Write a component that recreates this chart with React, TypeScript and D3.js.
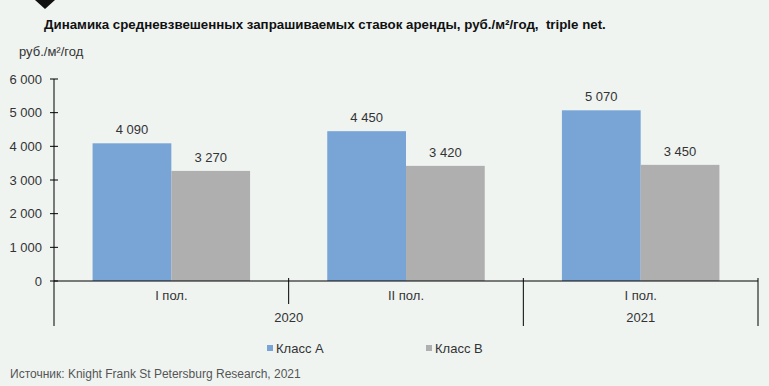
import { useRef, useEffect } from "react";
import * as d3 from "d3";

const periods = ["I пол.", "II пол.", "I пол."];
const years = ["2020", "2020", "2021"];
const classA = [4090, 4450, 5070];
const classB = [3270, 3420, 3450];
const seriesNames = ["Класс А", "Класс В"];
const yTicks = [0, 1000, 2000, 3000, 4000, 5000, 6000];

const W = 769;
const H = 386;

const App = () => {
  const svgRef = useRef(null);

  useEffect(() => {
    if (!svgRef.current) return;
    const svg = d3.select(svgRef.current);
    svg.selectAll("*").remove();

    const fmt = d3.formatLocale({
      decimal: ",",
      thousands: "\u00a0",
      grouping: [3],
      currency: ["", ""],
    }).format(",d");

    const left = 54;
    const right = 758;
    const y0 = 281;
    const yTop = 79;
    const colors = ["#78a5d6", "#afafaf"];
    const txt = "#333333";
    const fs = 13;

    svg
      .append("rect")
      .attr("width", W)
      .attr("height", H)
      .attr("fill", "#eff4f1");

    // marker
    svg
      .append("path")
      .attr("d", "M35,0 L55,0 L45,9 Z")
      .attr("fill", "#111");

    svg
      .append("text")
      .attr("x", 44)
      .attr("y", 29)
      .attr("font-size", 13.3)
      .attr("font-weight", "bold")
      .attr("fill", "#111")
      .style("white-space", "pre")
      .text("Динамика средневзвешенных запрашиваемых ставок аренды, руб./м²/год,  triple net.");

    svg
      .append("text")
      .attr("x", 19)
      .attr("y", 56)
      .attr("font-size", fs)
      .attr("fill", txt)
      .text("руб./м²/год");

    const x = d3
      .scaleBand<number>()
      .domain(d3.range(periods.length))
      .range([left, right])
      .paddingInner(0)
      .paddingOuter(0);

    const y = d3.scaleLinear().domain([0, 6000]).range([y0, yTop]);

    const inner = d3
      .scaleBand<number>()
      .domain([0, 1])
      .range([0, x.bandwidth()])
      .paddingOuter(0.49)
      .paddingInner(0);

    const g = svg.append("g").attr("font-family", "Liberation Sans, Arial, sans-serif");

    // bars
    const series = [classA, classB];
    series.forEach((vals, s) => {
      g.append("g")
        .selectAll("rect")
        .data(vals)
        .join("rect")
        .attr("x", (_, i) => (x(i) as number) + (inner(s) as number))
        .attr("y", (d) => y(d))
        .attr("width", inner.bandwidth())
        .attr("height", (d) => y0 - y(d))
        .attr("fill", colors[s]);

      g.append("g")
        .selectAll("text")
        .data(vals)
        .join("text")
        .attr("x", (_, i) => (x(i) as number) + (inner(s) as number) + inner.bandwidth() / 2)
        .attr("y", (d) => y(d) - 9)
        .attr("text-anchor", "middle")
        .attr("font-size", fs)
        .attr("fill", txt)
        .text((d) => fmt(d));
    });

    // y axis
    g.append("line")
      .attr("x1", left)
      .attr("x2", left)
      .attr("y1", yTop)
      .attr("y2", 326)
      .attr("stroke", "#000");

    g.append("g")
      .selectAll("line")
      .data(yTicks)
      .join("line")
      .attr("x1", left - 4)
      .attr("x2", left + 4)
      .attr("y1", (d) => y(d))
      .attr("y2", (d) => y(d))
      .attr("stroke", "#000");

    g.append("g")
      .selectAll("text")
      .data(yTicks)
      .join("text")
      .attr("x", left - 12)
      .attr("y", (d) => y(d) + 4.5)
      .attr("text-anchor", "end")
      .attr("font-size", fs)
      .attr("fill", txt)
      .text((d) => fmt(d));

    // x axis
    g.append("line")
      .attr("x1", left)
      .attr("x2", right)
      .attr("y1", y0)
      .attr("y2", y0)
      .attr("stroke", "#000");

    // category dividers
    const divs = [
      { xx: x(1) as number, y2: 304 },
      { xx: x(2) as number, y2: 326 },
      { xx: right, y2: 326 },
    ];
    g.append("g")
      .selectAll("line")
      .data(divs)
      .join("line")
      .attr("x1", (d) => d.xx)
      .attr("x2", (d) => d.xx)
      .attr("y1", y0 - 3)
      .attr("y2", (d) => d.y2)
      .attr("stroke", "#000");

    g.append("g")
      .selectAll("text")
      .data(periods)
      .join("text")
      .attr("x", (_, i) => (x(i) as number) + x.bandwidth() / 2)
      .attr("y", 300)
      .attr("text-anchor", "middle")
      .attr("font-size", fs)
      .attr("fill", txt)
      .text((d) => d);

    const yearGroups = d3.groups(
      d3.range(years.length),
      (i) => years[i]
    );
    g.append("g")
      .selectAll("text")
      .data(yearGroups)
      .join("text")
      .attr("x", ([, idx]) => {
        const a = x(idx[0]) as number;
        const b = (x(idx[idx.length - 1]) as number) + x.bandwidth();
        return (a + b) / 2;
      })
      .attr("y", 322)
      .attr("text-anchor", "middle")
      .attr("font-size", fs)
      .attr("fill", txt)
      .text(([k]) => k);

    // legend
    const legX = [267, 426];
    const leg = g
      .append("g")
      .selectAll("g")
      .data(seriesNames)
      .join("g")
      .attr("transform", (_, i) => `translate(${legX[i]},348)`);
    leg
      .append("rect")
      .attr("x", 0)
      .attr("y", -3)
      .attr("width", 6)
      .attr("height", 6)
      .attr("fill", (_, i) => colors[i]);
    leg
      .append("text")
      .attr("x", 9)
      .attr("y", 5)
      .attr("font-size", fs)
      .attr("fill", txt)
      .text((d) => d);

    g.append("text")
      .attr("x", 10)
      .attr("y", 378)
      .attr("font-size", 12)
      .attr("fill", "#555")
      .text("Источник: Knight Frank St Petersburg Research, 2021");
  }, []);

  return (
    <svg
      ref={svgRef}
      width={W}
      height={H}
      style={{ position: "absolute", left: 0, top: 0, fontFamily: "Liberation Sans, Arial, sans-serif" }}
    />
  );
};

export default App;
